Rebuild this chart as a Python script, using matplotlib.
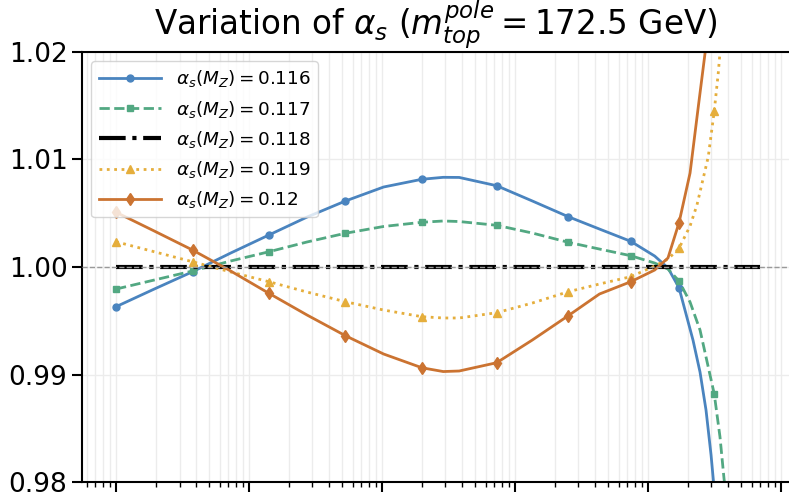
import numpy as np
import matplotlib
matplotlib.use("Agg")
import matplotlib.pyplot as plt

# log10 of the scale for each sampled point, and the ratio at that point
log_mu_116 = [2.0, 2.287, 2.575, 2.862, 3.15, 3.437, 3.725, 4.012, 4.30, 4.46, 4.58,
              4.862, 5.13, 5.40, 5.635, 5.87, 6.05, 6.15, 6.233, 6.338, 6.391, 6.436,
              6.474, 6.498]
ratio_116 = [0.99631, 0.99795, 0.99956, 1.0013, 1.00298, 1.00465, 1.00614, 1.00744,
             1.00816, 1.00834, 1.00833, 1.00756, 1.00614, 1.00468, 1.00353, 1.00239,
             1.00102, 0.99991, 0.99807, 0.99321, 0.99023, 0.9867, 0.98251, 0.97926]
marks_116 = [0, 2, 4, 6, 8, 11, 13, 15, 18, 23]

log_mu_117 = [2.0, 2.287, 2.575, 2.862, 3.15, 3.437, 3.725, 4.012, 4.30, 4.46, 4.58,
              4.862, 5.13, 5.40, 5.635, 5.87, 6.05, 6.15, 6.233, 6.316, 6.391, 6.498,
              6.541, 6.571, 6.594]
ratio_117 = [0.99795, 0.99879, 0.99963, 1.00056, 1.00142, 1.00233, 1.00314, 1.00377,
             1.00416, 1.00428, 1.00423, 1.00388, 1.00316, 1.0023, 1.00167, 1.00105,
             1.00037, 0.99981, 0.9987, 0.99674, 0.99414, 0.98819, 0.98421, 0.98037,
             0.97786]
marks_117 = [0, 2, 4, 6, 8, 11, 13, 15, 18, 21]

log_mu_118 = [2.0, 6.842]
ratio_118 = [1.0, 1.0]

log_mu_119 = [2.0, 2.287, 2.575, 2.862, 3.15, 3.437, 3.725, 4.012, 4.30, 4.46, 4.58,
              4.862, 5.13, 5.40, 5.635, 5.87, 6.05, 6.15, 6.233, 6.316, 6.368, 6.453,
              6.498, 6.528, 6.549]
ratio_119 = [1.00235, 1.00142, 1.00049, 0.99954, 0.99863, 0.99767, 0.99677, 0.996,
             0.99538, 0.99526, 0.99526, 0.99575, 0.99665, 0.9977, 0.99842, 0.9991,
             1.00009, 1.00074, 1.00174, 1.00381, 1.00577, 1.01026, 1.01451, 1.01802,
             1.02112]
marks_119 = [0, 2, 4, 6, 8, 11, 13, 15, 18, 22]

log_mu_120 = [2.0, 2.287, 2.575, 2.862, 3.15, 3.437, 3.725, 4.012, 4.30, 4.46, 4.58,
              4.862, 5.13, 5.40, 5.635, 5.87, 6.05, 6.15, 6.233, 6.316, 6.378, 6.429,
              6.451]
ratio_120 = [1.00509, 1.00335, 1.00158, 0.99963, 0.99755, 0.99553, 0.99361, 0.99191,
             0.99063, 0.99028, 0.99033, 0.9911, 0.99321, 0.99547, 0.99749, 0.99863,
             0.99972, 1.00084, 1.00412, 1.00874, 1.01491, 1.01991, 1.02298]
marks_120 = [0, 2, 4, 6, 8, 11, 13, 15, 18]

labels = [r"$\alpha_s(M_Z) = 0.116$", r"$\alpha_s(M_Z) = 0.117$",
          r"$\alpha_s(M_Z) = 0.118$", r"$\alpha_s(M_Z) = 0.119$",
          r"$\alpha_s(M_Z) = 0.12$"]

fig = plt.figure(figsize=(7.89, 4.97), dpi=100)
ax = fig.add_axes([0.104, 0.030, 0.896, 0.8655])

ax.plot(10 ** np.array(log_mu_116), ratio_116, color="#4a84bf", lw=2, marker="o",
        ms=5, markevery=marks_116, label=labels[0])
ax.plot(10 ** np.array(log_mu_117), ratio_117, color="#52a882", lw=2, ls="--",
        marker="s", ms=5, markevery=marks_117, label=labels[1])
ax.plot(10 ** np.array(log_mu_118), ratio_118, color="black", lw=3, ls="-.",
        label=labels[2])
ax.plot(10 ** np.array(log_mu_119), ratio_119, color="#e5ae3c", lw=2, ls=":",
        marker="^", ms=6, markevery=marks_119, label=labels[3])
ax.plot(10 ** np.array(log_mu_120), ratio_120, color="#cb7331", lw=2, marker="d",
        ms=6, markevery=marks_120, label=labels[4])

ax.axhline(1.0, color="#999999", ls="--", lw=1, zorder=5)

ax.set_xscale("log")
ax.set_xlim(10 ** 1.7444, 10 ** 7.06)
ax.set_ylim(0.98, 1.02)
ax.set_yticks([0.98, 0.99, 1.00, 1.01, 1.02])
ax.set_yticklabels(["0.98", "0.99", "1.00", "1.01", "1.02"])
ax.xaxis.set_major_locator(matplotlib.ticker.LogLocator(base=10, numticks=20))
ax.xaxis.set_minor_locator(matplotlib.ticker.LogLocator(base=10, subs=np.arange(2, 10),
                                                        numticks=20))
ax.tick_params(axis="x", which="both", labelbottom=False)
ax.tick_params(which="major", length=7, width=1.5, labelsize=19)
ax.tick_params(which="minor", length=3.5, width=1)

ax.grid(which="both", axis="x", color="#ececec", lw=1)
ax.grid(which="major", axis="y", color="#ececec", lw=1)
ax.set_axisbelow(True)

for side in ["left", "bottom", "top"]:
    ax.spines[side].set_linewidth(1.5)
ax.spines["right"].set_visible(False)

ax.set_title(r"Variation of $\alpha_s$ ($m_{top}^{pole} = 172.5$ GeV)", fontsize=23.5)
ax.legend(loc="upper left", fontsize=13.2, handlelength=3.4)

fig.savefig("out.png", dpi=100)
